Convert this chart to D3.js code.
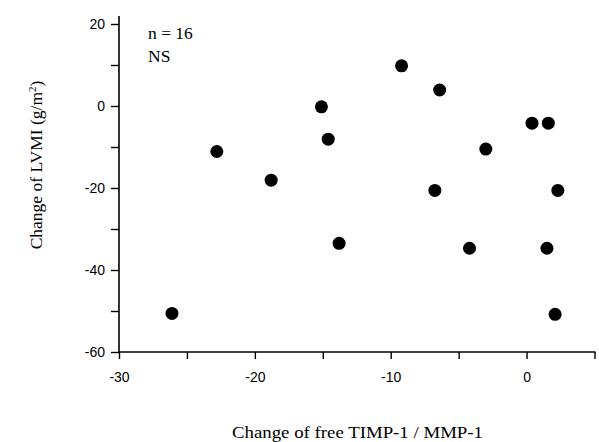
<!DOCTYPE html>
<html>
<head>
<meta charset="utf-8">
<script src="https://cdn.jsdelivr.net/npm/d3@7"></script>
<style>
  body { margin: 0; background: #fff; }
  svg text { fill: #000; }
</style>
</head>
<body>
<svg id="chart" width="599" height="442"></svg>
<script>
// change of free TIMP-1 / MMP-1 ratio (x) vs change of LVMI (y)
var timpChange = [-26.1, -22.8, -18.8, -15.1, -14.6, -13.8, -9.2, -6.4, 0.4, 1.6, -3.0, -6.75, 2.3, -4.2, 1.5, 2.1];
var lvmiChange = [-50.6, -11.1, -18.1, -0.2, -8.1, -33.5, 9.8, 3.9, -4.2, -4.2, -10.5, -20.6, -20.6, -34.7, -34.7, -50.8];

var xMajorTicks = [-30, -20, -10, 0];
var xMinorTicks = [-25, -15, -5, 5];
var yMajorTicks = [-60, -40, -20, 0, 20];
var yMinorTicks = [-50, -30, -10, 10];

var svg = d3.select("#chart");

var x = d3.scaleLinear().domain([-30, 5]).range([119, 594.5]);
var y = d3.scaleLinear().domain([-60, 20]).range([352, 24]);

var sans = "'Liberation Sans', Arial, sans-serif";
var serif = "'Liberation Serif', 'Times New Roman', serif";

//x axis
var xAxis = svg.append("g").attr("transform", "translate(0," + y(-60) + ")");
xAxis.call(d3.axisBottom(x).tickValues(xMajorTicks.concat(xMinorTicks))
    .tickSize(7).tickSizeOuter(0)
    .tickFormat(function(d){ return xMajorTicks.indexOf(d) >= 0 ? d : ""; }));
xAxis.select(".domain").remove();
xAxis.append("line").attr("x1", x(-30)).attr("x2", x(5) + 1)
    .attr("stroke", "#000").attr("stroke-width", 1.6);
xAxis.selectAll(".tick line").attr("stroke-width", 1.4);
xAxis.selectAll(".tick text").attr("dy", "1.4em")
    .style("font-family", sans).style("font-size", "14px");

//y axis
var yAxis = svg.append("g").attr("transform", "translate(" + x(-30) + ",0)");
yAxis.call(d3.axisLeft(y).tickValues(yMajorTicks.concat(yMinorTicks))
    .tickSize(8).tickSizeOuter(0)
    .tickFormat(function(d){ return yMajorTicks.indexOf(d) >= 0 ? d : ""; }));
yAxis.select(".domain").remove();
yAxis.append("line").attr("y1", y(-60) + 1).attr("y2", y(20) - 8)
    .attr("stroke", "#000").attr("stroke-width", 1.6);
yAxis.selectAll(".tick line").attr("stroke-width", 1.4);
yAxis.selectAll(".tick text").attr("x", -14)
    .style("font-family", sans).style("font-size", "14px");

//points
var points = timpChange.map(function(v, i){ return {x: v, y: lvmiChange[i]}; });
svg.append("g").selectAll("circle")
    .data(points)
    .enter()
    .append("circle")
    .attr("cx", function(d){ return x(d.x); })
    .attr("cy", function(d){ return y(d.y); })
    .attr("r", 6.5)
    .attr("fill", "#000");

//annotation
svg.append("text").attr("x", 148).attr("y", 39)
    .style("font-family", serif).style("font-size", "17.5px").text("n = 16");
svg.append("text").attr("x", 148).attr("y", 62)
    .style("font-family", serif).style("font-size", "17.5px").text("NS");

//axis titles
svg.append("text").attr("x", 232).attr("y", 438)
    .attr("textLength", 251).attr("lengthAdjust", "spacingAndGlyphs")
    .style("font-family", serif).style("font-size", "17px")
    .text("Change of free TIMP-1 / MMP-1");

var yt = svg.append("text").attr("text-anchor", "middle")
    .attr("transform", "translate(42,165) rotate(-90)")
    .style("font-family", serif).style("font-size", "17.5px");
yt.append("tspan").text("Change of LVMI (g/m");
yt.append("tspan").attr("baseline-shift", "super").style("font-size", "11px").text("2");
yt.append("tspan").text(")");
</script>
</body>
</html>
